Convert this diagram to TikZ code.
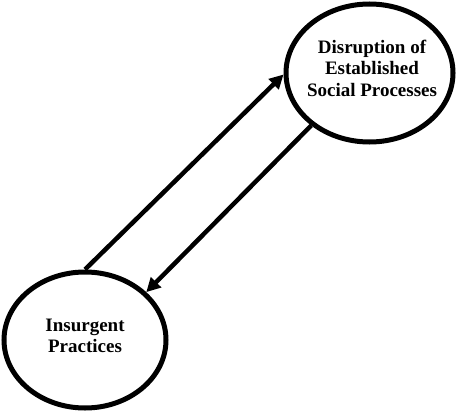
\documentclass[tikz,border=0pt]{standalone}
\usepackage{fontspec}
\setmainfont{Liberation Serif}
\usetikzlibrary{shapes.geometric,arrows.meta}
\tikzset{
  bubble/.style={ellipse, draw, line width=5pt, inner sep=0pt},
  label text/.style={align=center, font=\fontsize{19}{21.5}\selectfont\bfseries},
  link/.style={line width=4.5pt, -{Triangle[length=14pt,width=14pt]}}
}
\begin{document}
\begin{tikzpicture}[x=1pt,y=1pt]
  \useasboundingbox (0,0) rectangle (457,413);
  % process nodes
  \node[bubble, minimum width=167pt, minimum height=138pt] (disrupt) at (369.5,340) {};
  \node[bubble, minimum width=162pt, minimum height=136pt] (insurg) at (85,73) {};
  \node[label text] (disruptText) at (372,345) {Disruption of\\Established\\Social Processes};
  \node[label text] (insurgText) at (85,77) {Insurgent\\Practices};
  % feedback connectors
  \draw[link] (insurg.90) -- (disrupt.181);
  \draw[link] (disrupt.222) -- (insurg.38);
\end{tikzpicture}
\end{document}
